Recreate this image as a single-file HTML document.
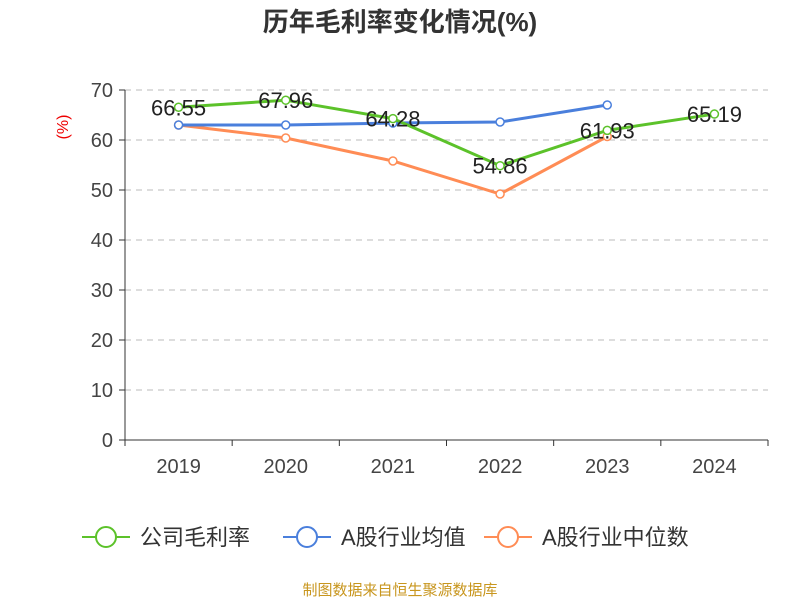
<!DOCTYPE html>
<html><head><meta charset="utf-8"><style>
body{margin:0;background:#fff;font-family:"Liberation Sans","Noto Sans CJK SC",sans-serif;}
</style></head><body>
<svg id="chart" width="800" height="600" xmlns="http://www.w3.org/2000/svg" font-family="Liberation Sans, Noto Sans CJK SC, sans-serif">
<text x="400" y="31" text-anchor="middle" font-size="26" font-weight="bold" fill="#333">历年毛利率变化情况(%)</text>
<text x="68" y="127" font-size="16" fill="#e00" transform="rotate(-90 68 127)" text-anchor="middle">(%)</text>
<g id="grid"></g><g id="axes"></g><g id="series"></g><g id="legend"></g>
<text x="400" y="595" text-anchor="middle" font-size="15" fill="#c8961e">制图数据来自恒生聚源数据库</text>
</svg>
<script>
const categories=["2019","2020","2021","2022","2023","2024"];
const grossMargin=[66.55,67.96,64.28,54.86,61.93,65.19];
const industryAvg=[63.0,63.0,63.4,63.6,67.0,null];
const industryMedian=[63.0,60.4,55.8,49.2,60.7,null];
const yTicks=[0,10,20,30,40,50,60,70];
const NS="http://www.w3.org/2000/svg";
const x0=125,x1=768,yBase=440,yTop=90,yMax=70;
const band=(x1-x0)/categories.length;
const xs=i=>x0+band*(i+0.5);
const ys=v=>yBase-(v/yMax)*(yBase-yTop);
function mk(tag,attrs,parent){const e=document.createElementNS(NS,tag);for(const k in attrs)e.setAttribute(k,attrs[k]);parent.appendChild(e);return e;}
const grid=document.getElementById('grid'),axes=document.getElementById('axes'),ser=document.getElementById('series'),leg=document.getElementById('legend');
yTicks.forEach(t=>{
 const y=ys(t);
 if(t>0){const l=mk('line',{x1:x0,x2:x1,y1:y,y2:y,stroke:'#bbb','stroke-dasharray':'6,5'},grid);
 
 }
 mk('line',{x1:x0-6,x2:x0,y1:y,y2:y,stroke:'#333'},axes);
 const tx=mk('text',{x:x0-12,y:y+7,'text-anchor':'end','font-size':20,fill:'#444'},axes);tx.textContent=t;
 
 
});
mk('line',{x1:x0,x2:x0,y1:yTop,y2:yBase,stroke:'#333'},axes);
mk('line',{x1:x0,x2:x1,y1:yBase,y2:yBase,stroke:'#333'},axes);
for(let i=0;i<=categories.length;i++){const x=x0+band*i;mk('line',{x1:x,x2:x,y1:yBase,y2:yBase+6,stroke:'#333'},axes);}
categories.forEach((c,i)=>{const t=mk('text',{x:xs(i),y:473,'text-anchor':'middle','font-size':20,fill:'#444'},axes);t.textContent=c;
 
 });
function series(data,color,name,labels){
 const g=mk('g',{},ser);
 
 
 let d='';data.forEach((v,i)=>{if(v==null)return;d+=(d?'L':'M')+xs(i)+','+ys(v);});
 mk('path',{d:d,fill:'none',stroke:color,'stroke-width':3},g);
 data.forEach((v,i)=>{if(v==null)return;const c=mk('circle',{cx:xs(i),cy:ys(v),r:4,fill:'#fff',stroke:color,'stroke-width':1.5},g);
  
  
  if(labels){const t=mk('text',{x:xs(i),y:ys(v)+8,'text-anchor':'middle','font-size':22,fill:'#222'},g);t.textContent=v.toFixed(2);
   
   }});
}
series(industryMedian,'#ff8c55','industry-median-line',false);
series(industryAvg,'#4a7fdc','industry-average-line',false);
series(grossMargin,'#5cc22a','gross-margin-line',true);
[['公司毛利率','#5cc22a',82],['A股行业均值','#4a7fdc',283],['A股行业中位数','#ff8c55',484]].forEach(([n,c,x])=>{
 const g=mk('g',{},leg);
 
 
 mk('line',{x1:x,x2:x+48,y1:537,y2:537,stroke:c,'stroke-width':2},g);
 mk('circle',{cx:x+24,cy:537,r:10,fill:'#fff',stroke:c,'stroke-width':2},g);
 const t=mk('text',{x:x+58,y:545,'font-size':22,fill:'#333'},g);t.textContent=n;
});
</script>
</body></html>
